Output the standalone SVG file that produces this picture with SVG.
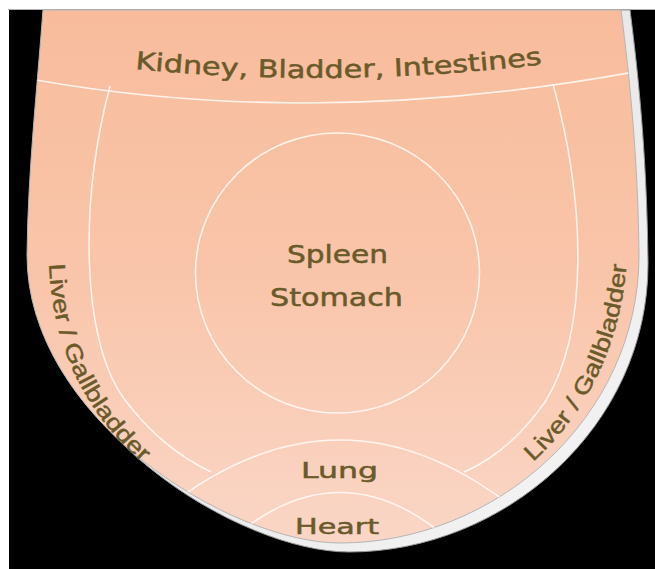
<svg xmlns="http://www.w3.org/2000/svg" width="655" height="569" viewBox="0 0 655 569">
<style>
.lbl{fill:#6a5a2a;stroke:#6a5a2a;stroke-width:0.5;font-family:"DejaVu Sans",Verdana,sans-serif;}
.lbl2{fill:#6a5a2a;stroke:#6a5a2a;stroke-width:0.45;font-family:"Liberation Sans",Arial,sans-serif;}
.bd{fill:none;stroke:#ffffff;stroke-opacity:0.8;stroke-width:1.6;}
</style>
<defs>
<linearGradient id="pink" x1="0" y1="0" x2="0" y2="1">
<stop offset="0" stop-color="#F8BC9C"/>
<stop offset="0.5" stop-color="#F9C5AA"/>
<stop offset="1" stop-color="#FAD6C6"/>
</linearGradient>
<linearGradient id="rimg" x1="0" y1="0" x2="1" y2="1">
<stop offset="0" stop-color="#dcdcdc"/>
<stop offset="1" stop-color="#f6f6f6"/>
</linearGradient>
<clipPath id="clip">
<path d="M 43,10 L 621,10 C 630,80 638,160 639,255 C 639,418 495,543 340,543 C 230,543 27,418 27,255 C 28,170 37,90 43,10 Z"/>
</clipPath>
<path id="pKid" d="M 135,69 Q 340,89 545,64"/>
<path id="pLivL" d="M 49,264 C 52,342 82,412 146,466"/>
<path id="pLivR" d="M 533,462 C 590,410 622,340 627,258"/>
</defs>
<rect x="0" y="0" width="655" height="569" fill="#ffffff"/>
<rect x="9" y="10" width="646" height="559" fill="#000000"/>
<line x1="8" y1="9.5" x2="655" y2="9.5" stroke="#b0b0b0" stroke-width="1"/>
<g id="tongue">
<path d="M 52,10 L 630,10 C 639,80 647,160 648,264 C 648,427 504,552 349,552 C 239,552 36,427 36,264 C 37,179 46,99 52,10 Z" fill="url(#rimg)" stroke="#9a9a9a" stroke-width="1"/>
<path d="M 43,10 L 621,10 C 630,80 638,160 639,255 C 639,418 495,543 340,543 C 230,543 27,418 27,255 C 28,170 37,90 43,10 Z" fill="url(#pink)" stroke="#b5b5b5" stroke-width="1"/>
</g>
<g id="connectors" clip-path="url(#clip)">
<path class="bd" d="M 36,80 Q 320,130 640,71"/>
<path class="bd" d="M 110,86 C 80,200 80,340 125,400 Q 161,448 211,472"/>
<path class="bd" d="M 553,84 C 585,200 590,330 545,402 Q 510,452 464,472"/>
<ellipse class="bd" cx="337.5" cy="273" rx="142" ry="140"/>
<path class="bd" d="M 140,530 Q 340,350 540,530"/>
<path class="bd" d="M 200,570 Q 340,415 480,570"/>
</g>
<g id="zone-kidney-bladder-intestines">
<text class="lbl" font-size="24.5"><textPath href="#pKid" textLength="408" lengthAdjust="spacingAndGlyphs">Kidney, Bladder, Intestines</textPath></text>
</g>
<g id="zone-spleen-stomach">
<text class="lbl" font-size="24" x="337.5" y="263" text-anchor="middle" textLength="101" lengthAdjust="spacingAndGlyphs">Spleen</text>
<text class="lbl" font-size="24" x="336.5" y="306" text-anchor="middle" textLength="133" lengthAdjust="spacingAndGlyphs">Stomach</text>
</g>
<g id="zone-liver-left">
<text class="lbl2" font-size="23"><textPath href="#pLivL" textLength="226" lengthAdjust="spacingAndGlyphs">Liver / Gallbladder</textPath></text>
</g>
<g id="zone-liver-right">
<text class="lbl2" font-size="23"><textPath href="#pLivR" textLength="224" lengthAdjust="spacingAndGlyphs">Liver / Gallbladder</textPath></text>
</g>
<g id="zone-lung">
<text class="lbl" font-size="22" x="339.5" y="478" text-anchor="middle" textLength="77" lengthAdjust="spacingAndGlyphs">Lung</text>
</g>
<g id="zone-heart">
<text class="lbl" font-size="22" x="337" y="534" text-anchor="middle" textLength="84" lengthAdjust="spacingAndGlyphs">Heart</text>
</g>
</svg>
